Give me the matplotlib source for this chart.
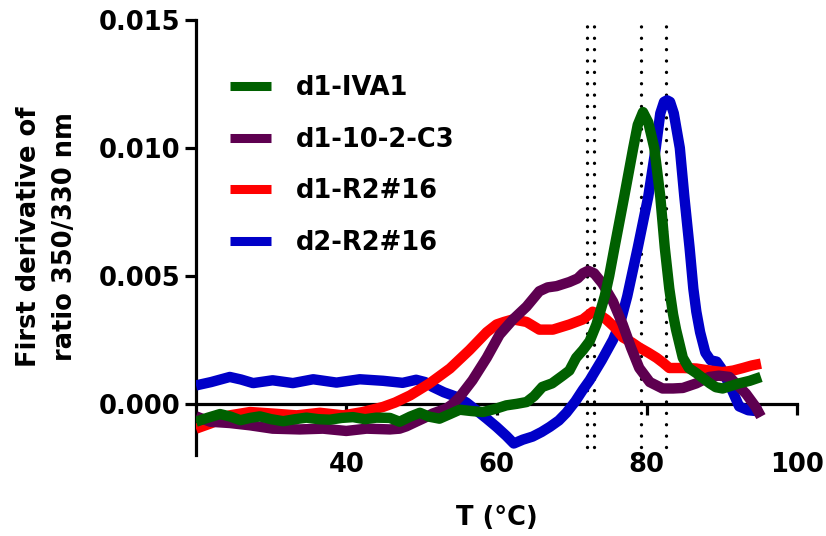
import matplotlib
matplotlib.use("Agg")
import matplotlib.pyplot as plt
from matplotlib.ticker import FormatStrFormatter

# ---------------- data ----------------
labels = ["d1-IVA1", "d1-10-2-C3", "d1-R2#16", "d2-R2#16"]
colors = ["#006000", "#5E0050", "#FF0000", "#0000C8"]

t_green = [20.0, 21.5, 23.2, 24.6, 25.9, 27.2, 28.5, 30.0, 31.6, 33.2, 34.7, 36.3, 37.8, 39.4,
           40.9, 42.5, 44.0, 45.8, 47.1, 48.5, 49.8, 51.0, 52.4, 53.8, 55.1, 56.6, 58.2, 59.8,
           61.3, 62.7, 64.0, 65.0, 66.1, 67.4, 68.8, 69.7, 70.6, 71.5, 72.4, 73.3, 74.1, 74.4,
           75.0, 75.7, 77.0, 78.2, 78.8, 79.5, 80.2, 81.0, 81.8, 82.4, 83.0, 83.5, 83.9, 84.8,
           85.6, 86.6, 87.5, 88.4, 89.2, 90.1, 91.2, 92.3, 93.7, 95.2]
v_green = [-0.0007, -0.00055, -0.0004, -0.0005, -0.00064, -0.00055, -0.00049, -0.0006, -0.00068,
           -0.0006, -0.00054, -0.0006, -0.00062, -0.00055, -0.00052, -0.0006, -0.00054, -0.00055,
           -0.0007, -0.0005, -0.00035, -0.0005, -0.00058, -0.0004, -0.00023, -0.00028, -0.00032,
           -0.0002, -0.00006, 0.0, 0.00007, 0.0003, 0.00066, 0.0008, 0.0011, 0.0013, 0.0018,
           0.0021, 0.00245, 0.0031, 0.0039, 0.0042, 0.0050, 0.0061, 0.0081, 0.0100, 0.0109,
           0.0114, 0.0110, 0.0100, 0.0081, 0.0061, 0.0045, 0.0035, 0.0029, 0.0018, 0.0014,
           0.0012, 0.0010, 0.0008, 0.00065, 0.0006, 0.0007, 0.0008, 0.0009, 0.00105]

t_purple = [20.0, 21.9, 24.5, 27.2, 30.2, 33.8, 36.9, 40.0, 42.7, 45.8, 47.1, 48.0, 49.3, 50.4,
            51.5, 53.3, 54.2, 55.1, 56.8, 58.7, 60.4, 62.2, 64.0, 65.7, 66.8, 68.0, 69.7, 70.8,
            71.5, 72.2, 73.0, 74.1, 75.5, 76.8, 77.9, 79.0, 80.4, 82.1, 83.5, 84.8, 86.6, 88.3,
            89.6, 91.0, 93.2, 94.5, 95.2]
v_purple = [-0.00049, -0.0007, -0.00075, -0.00084, -0.00097, -0.0010, -0.00097, -0.00106,
            -0.00097, -0.0010, -0.00097, -0.00088, -0.0007, -0.00055, -0.00038, -0.00019, 0.0,
            0.00027, 0.00092, 0.0018, 0.0027, 0.0033, 0.0038, 0.0044, 0.00455, 0.0046, 0.00476,
            0.0049, 0.0051, 0.0052, 0.0051, 0.0047, 0.0040, 0.0031, 0.0022, 0.0014, 0.00085,
            0.0006, 0.0006, 0.00062, 0.0008, 0.00105, 0.0011, 0.00105, 0.0004, -0.00012, -0.0005]

t_red = [20.0, 21.9, 24.5, 27.2, 30.2, 33.4, 36.5, 39.6, 42.2, 44.9, 46.5, 48.5, 51.1, 53.8,
         56.4, 58.7, 60.0, 61.0, 62.2, 64.0, 65.7, 67.5, 69.7, 71.5, 72.8, 73.6, 74.6, 75.7,
         76.8, 78.0, 79.0, 80.2, 81.3, 82.2, 83.0, 84.8, 86.6, 88.4, 90.1, 91.5, 92.8, 94.0, 95.2]
v_red = [-0.00097, -0.00077, -0.00045, -0.00032, -0.00038, -0.00045, -0.00035, -0.00045,
         -0.00032, -0.00012, 0.00005, 0.00033, 0.0008, 0.00138, 0.0021, 0.0028, 0.0031, 0.0032,
         0.0033, 0.0032, 0.0029, 0.0029, 0.0031, 0.0033, 0.0036, 0.0035, 0.0033, 0.0030, 0.0026,
         0.0024, 0.0022, 0.0020, 0.0018, 0.0016, 0.0014, 0.0014, 0.00138, 0.0013, 0.00124,
         0.0013, 0.0014, 0.0015, 0.00157]

t_blue = [20.0, 22.0, 24.5, 26.0, 27.6, 30.2, 32.9, 35.6, 38.7, 41.8, 44.9, 47.5, 49.3, 50.5,
          51.5, 53.0, 54.7, 56.0, 57.3, 58.7, 60.0, 61.3, 62.3, 63.5, 64.8, 66.0, 67.1, 68.3,
          69.3, 70.5, 71.5, 72.4, 74.0, 75.5, 76.5, 77.4, 78.8, 80.2, 81.2, 81.8, 82.3, 82.7,
          83.1, 83.6, 84.4, 85.0, 85.7, 86.2, 86.6, 87.1, 87.8, 88.5, 89.3, 89.9, 90.4, 91.4,
          92.3, 93.5, 95.2]
v_blue = [0.00072, 0.00085, 0.00105, 0.00095, 0.00081, 0.00092, 0.00081, 0.00096, 0.00083,
          0.00096, 0.00090, 0.00082, 0.00094, 0.00085, 0.00066, 0.00045, 0.00027, 0.00005,
          -0.00025, -0.00058, -0.00090, -0.00125, -0.00155, -0.00140, -0.00128, -0.00110,
          -0.00090, -0.00065, -0.00035, 0.00010, 0.00055, 0.00092, 0.0017, 0.0025, 0.0032,
          0.0042, 0.0061, 0.0081, 0.0100, 0.01135, 0.0118, 0.01186, 0.0118, 0.01135, 0.0100,
          0.0081, 0.0061, 0.0045, 0.0036, 0.0028, 0.0020, 0.0017, 0.00165, 0.0014, 0.0011,
          0.0005, -0.0001, -0.00025, -0.0003]

tm_lines = [72.0, 73.0, 79.3, 82.6]

x_ticks = [40, 60, 80, 100]
y_ticks = [0.000, 0.005, 0.010, 0.015]

# ---------------- figure ----------------
plt.rcParams["font.family"] = ["DejaVu Sans"]
plt.rcParams["font.weight"] = "bold"

fig = plt.figure(figsize=(8.26, 5.36), dpi=100)
ax = fig.add_axes([0.2373, 0.1511, 0.7276, 0.8116])

series = [(t_green, v_green), (t_purple, v_purple), (t_red, v_red), (t_blue, v_blue)]
zorders = [6, 5, 4, 3]
for (t, v), lab, c, z in zip(series, labels, colors, zorders):
    ax.plot(t, v, color=c, lw=7.5, label=lab, zorder=z, solid_capstyle="butt",
            solid_joinstyle="round")

for x in tm_lines:
    ax.plot([x, x], [-0.0017, 0.015], color="black", lw=2.4,
            linestyle=(0, (0.01, 3.4)), dash_capstyle="round", zorder=1.5)

ax.set_xlim(20, 100)
ax.set_ylim(-0.002, 0.015)

for s in ["top", "right"]:
    ax.spines[s].set_visible(False)
ax.spines["bottom"].set_position(("data", 0))
ax.spines["bottom"].set_linewidth(2.3)
ax.spines["left"].set_linewidth(2.3)
ax.spines["bottom"].set_zorder(2)

ax.set_xticks(x_ticks)
ax.set_yticks(y_ticks)
ax.yaxis.set_major_formatter(FormatStrFormatter("%.3f"))
ax.tick_params(axis="both", direction="out", length=8, width=2.3, labelsize=18.5)
ax.tick_params(axis="x", pad=27)
ax.tick_params(axis="y", pad=3.5)
for lbl in ax.get_xticklabels() + ax.get_yticklabels():
    lbl.set_fontweight("bold")

ax.set_xlabel("T (°C)", fontsize=18.5, fontweight="bold")
ax.xaxis.set_label_coords(0.5, -0.115)

fig.text(47 / 826, 1 - 237 / 536, "First derivative of\nratio 350/330 nm",
         rotation=90, ha="center", va="center", multialignment="center",
         fontsize=18.5, fontweight="bold", linespacing=1.5)

leg = ax.legend(loc="upper left", bbox_to_anchor=(0.0566, 0.8736), frameon=False,
                borderaxespad=0, borderpad=0, handlelength=1.6, handletextpad=0.95,
                labelspacing=1.0, prop={"size": 18.5, "weight": "bold"})
for h in leg.get_lines():
    h.set_linewidth(6.5)

fig.savefig("out.png", dpi=100)
